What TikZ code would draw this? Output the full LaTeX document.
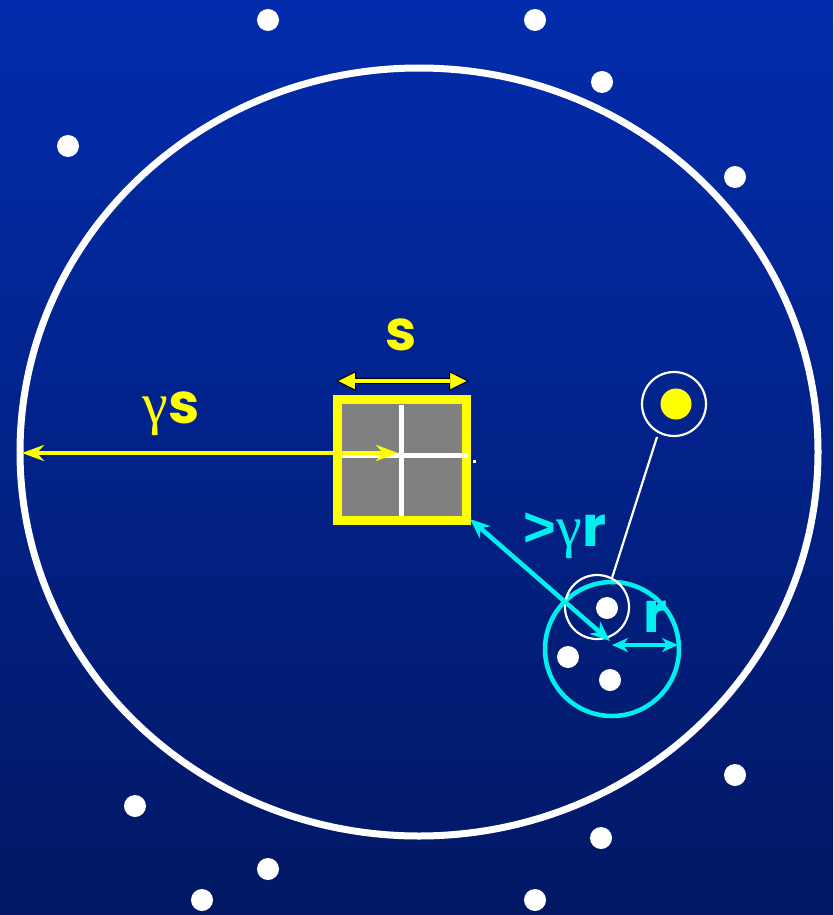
\documentclass[tikz,border=0pt]{standalone}
\usepackage{fontspec}
\setmainfont{Poppins}
\newfontfamily\gfont{Liberation Serif}
\newfontfamily\gtfont{Liberation Sans}
\usetikzlibrary{arrows.meta}
\definecolor{bgtop}{RGB}{2,44,172}
\definecolor{bgbot}{RGB}{2,24,100}
\definecolor{sq}{RGB}{128,128,128}
\definecolor{cy}{RGB}{0,240,240}
\definecolor{yl}{RGB}{255,255,0}
\newcommand{\gam}{{\gfont\fontsize{58}{60}\selectfont\mdseries γ}}
\tikzset{
  dot/.style={circle,fill=white,inner sep=0pt,minimum width=22pt,minimum height=20pt},
  lbl/.style={font=\fontsize{56}{60}\selectfont\bfseries,inner sep=0pt},
}
\begin{document}
\begin{tikzpicture}[x=1pt,y=-1pt]
\shade[top color=bgtop,bottom color=bgbot] (0,0) rectangle (833,915);
\useasboundingbox (0,0) rectangle (833,915);
% big circle
\draw[white,line width=7pt] (419,452) ellipse [x radius=399,y radius=384];
% outer dots
\foreach \p/\n in {(268,20)/d1,(535,20)/d2,(602,82)/d3,(68,146)/d4,(735,177)/d5,(735,775)/d6,(135,806)/d7,(601,838)/d8,(268,869)/d9,(202,900)/d10,(535,900)/d11}
  \node[dot] (\n) at \p {};
% square
\node[draw=yl,line width=9pt,fill=sq,minimum width=129pt,minimum height=121pt,inner sep=0pt] (sqr) at (401.5,459.5) {};
\coordinate (vt) at (401,405); \coordinate (vb) at (401,516);
\coordinate (hl) at (341,455); \coordinate (hr) at (468,455);
\draw[white,line width=5pt] (vt) -- (vb);
\draw[white,line width=5pt] (hl) -- (hr);
\node[fill=white,inner sep=0pt,minimum size=3pt] (tick) at (474,461) {};
% gamma s arrow
\coordinate (gl) at (22,453); \coordinate (gr) at (398,453);
\draw[yl,line width=4pt,{Stealth[length=22pt,width=16pt,inset=7pt]}-{Stealth[length=22pt,width=16pt,inset=7pt]}] (gl) -- (gr);
\node[lbl,text=yl] (gs) at (171,414) {\gam s};
% s arrow
\coordinate (sl) at (336,381); \coordinate (sr) at (469,381);
\draw[black,line width=6pt,{Triangle[length=20pt,width=20pt,fill=yl,line width=1pt]}-{Triangle[length=20pt,width=20pt,fill=yl,line width=1pt]}] (sl) -- (sr);
\draw[yl,line width=4pt,shorten <=19pt,shorten >=19pt] (sl) -- (sr);
\node[lbl,text=yl] (sl2) at (401,335) {s};
% cyan circle
\node[draw=cy,line width=4.5pt,circle,minimum size=134pt,inner sep=0pt] (cc) at (612,649) {};
\node[dot] (c1) at (607,608) {};
\node[dot] (c2) at (568,657) {};
\node[dot] (c3) at (610,680) {};
% thin white circles
\node[draw=white,line width=2.2pt,circle,minimum size=64pt,inner sep=0pt] (wc1) at (597,607) {};
\node[draw=white,line width=2.2pt,circle,minimum size=64pt,inner sep=0pt] (wc2) at (674,404) {};
\node[circle,fill=yl,minimum size=31pt,inner sep=0pt] (yd) at (676,404) {};
\coordinate (la) at (657,437); \coordinate (lb) at (612,578);
\draw[white,line width=2.2pt] (la) -- (lb);
% cyan arrows
\coordinate (ca) at (470,519); \coordinate (cb) at (610,641);
\draw[cy,line width=4.5pt,{Stealth[length=20pt,width=16pt,inset=6pt]}-{Stealth[length=20pt,width=16pt,inset=6pt]}] (ca) -- (cb);
\coordinate (ra) at (612,645); \coordinate (rb) at (678,645);
\draw[cy,line width=4.5pt,{Stealth[length=16pt,width=14pt,inset=5pt]}-{Stealth[length=16pt,width=14pt,inset=5pt]}] (ra) -- (rb);
\node[lbl,text=cy] (gr2) at (565,536) {{\gtfont\bfseries >}\gam r};
\node[lbl,text=cy] (rl) at (655,617) {r};
\end{tikzpicture}
\end{document}
